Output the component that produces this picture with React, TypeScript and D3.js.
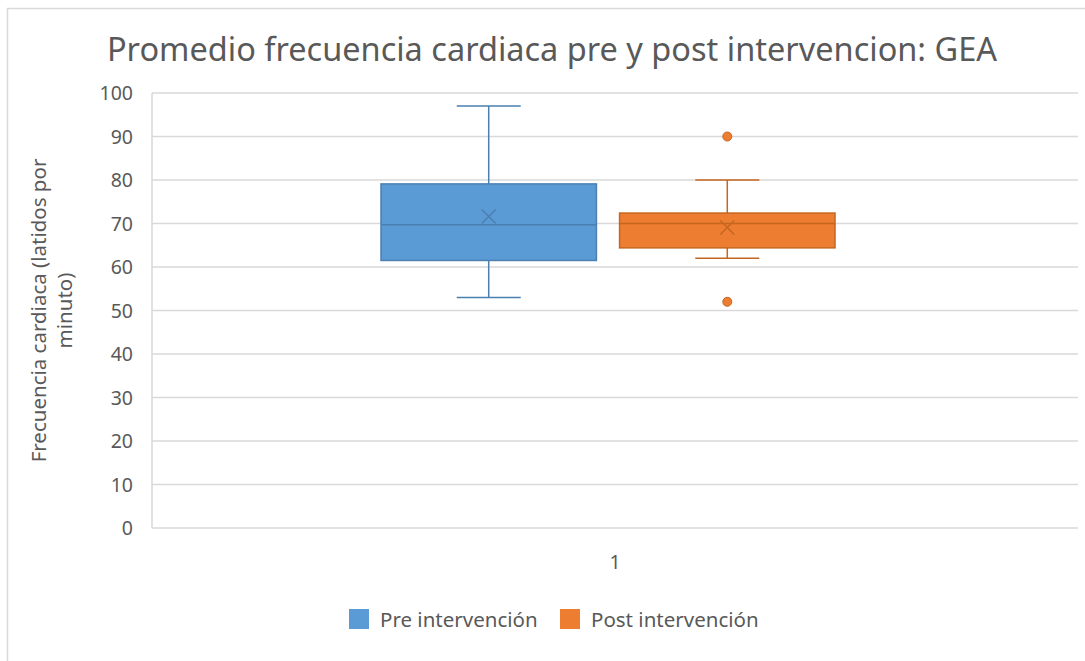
import React from "react";
import * as d3 from "d3";

const categories = ["1"];
const series = ["Pre intervención", "Post intervención"];
const mins = [53, 62];
const q1s = [61.5, 64.4];
const medians = [69.7, 70];
const q3s = [79.1, 72.4];
const maxs = [97, 80];
const means = [71.6, 69.1];
const outliers: number[][] = [[], [90, 52]];
const yTicks = [0, 10, 20, 30, 40, 50, 60, 70, 80, 90, 100];

const fills = ["#5B9BD5", "#ED7D31"];
const strokes = ["#4A7FB0", "#C5661F"];
const FONT = "'Noto Sans', sans-serif";
const TXT = "#595959";

export default function App() {
  const W = 1085, H = 661;
  const left = 152, right = 1078, top = 93, bottom = 528;
  const y = d3.scaleLinear().domain([0, 100]).range([bottom, top]);
  const x = d3.scaleBand().domain(categories).range([left, right]);
  const bx = x(categories[0]) as number;
  const sx = d3.scaleBand().domain(series).range([bx + 229, bx + 683]).paddingInner(0.097);
  const bw = sx.bandwidth();
  const capW = 64;
  const mk = 7;

  return (
    <svg width={W} height={H} style={{ position: "absolute", left: 0, top: 0, background: "#fff" }}>
      <rect x={7.5} y={8.5} width={1100} height={700} fill="#fff" stroke="#D9D9D9" strokeWidth={1.5} />
      <text x={552} y={61} textAnchor="middle" fontFamily={FONT} fontSize={32.5} fill={TXT}>
        Promedio frecuencia cardiaca pre y post intervencion: GEA
      </text>
      {yTicks.map((t) => (
        <g key={t}>
          <line x1={left} x2={right} y1={y(t)} y2={y(t)} stroke="#D9D9D9" strokeWidth={1.5} />
          <text x={133} y={y(t) + 7} textAnchor="end" fontFamily={FONT} fontSize={19.5} fill={TXT}>
            {t}
          </text>
        </g>
      ))}
      <line x1={left} x2={left} y1={top} y2={bottom} stroke="#D9D9D9" strokeWidth={1.5} />
      <text transform={`translate(46,${y(50)}) rotate(-90)`} textAnchor="middle" fontFamily={FONT} fontSize={20.5} fill={TXT}>
        <tspan x={0} dy={0}>Frecuencia cardiaca (latidos por</tspan>
        <tspan x={0} dy={26}>minuto)</tspan>
      </text>
      {series.map((s, i) => {
        const x0 = sx(s) as number;
        const cx = x0 + bw / 2;
        return (
          <g key={s}>
            <line x1={cx} x2={cx} y1={y(maxs[i])} y2={y(q3s[i])} stroke={strokes[i]} strokeWidth={1.5} />
            <line x1={cx} x2={cx} y1={y(q1s[i])} y2={y(mins[i])} stroke={strokes[i]} strokeWidth={1.5} />
            <line x1={cx - capW / 2} x2={cx + capW / 2} y1={y(maxs[i])} y2={y(maxs[i])} stroke={strokes[i]} strokeWidth={1.5} />
            <line x1={cx - capW / 2} x2={cx + capW / 2} y1={y(mins[i])} y2={y(mins[i])} stroke={strokes[i]} strokeWidth={1.5} />
            <rect x={x0} y={y(q3s[i])} width={bw} height={y(q1s[i]) - y(q3s[i])} fill={fills[i]} stroke={strokes[i]} strokeWidth={1.5} />
            <line x1={x0} x2={x0 + bw} y1={y(medians[i])} y2={y(medians[i])} stroke={strokes[i]} strokeWidth={1.5} />
            <path
              d={`M${cx - mk},${y(means[i]) - mk}L${cx + mk},${y(means[i]) + mk}M${cx + mk},${y(means[i]) - mk}L${cx - mk},${y(means[i]) + mk}`}
              stroke={strokes[i]}
              strokeWidth={1.5}
              fill="none"
            />
            {outliers[i].map((o, j) => (
              <circle key={j} cx={cx} cy={y(o)} r={4.5} fill={fills[i]} stroke={strokes[i]} strokeWidth={1} />
            ))}
          </g>
        );
      })}
      {categories.map((c) => (
        <text key={c} x={(x(c) as number) + x.bandwidth() / 2} y={569} textAnchor="middle" fontFamily={FONT} fontSize={19.5} fill={TXT}>
          {c}
        </text>
      ))}
      {series.map((s, i) => {
        const lx = i === 0 ? 349 : 560;
        return (
          <g key={s}>
            <rect x={lx} y={609} width={20} height={20} fill={fills[i]} />
            <text x={lx + 31} y={627} fontFamily={FONT} fontSize={20.5} fill={TXT}>
              {s}
            </text>
          </g>
        );
      })}
    </svg>
  );
}
